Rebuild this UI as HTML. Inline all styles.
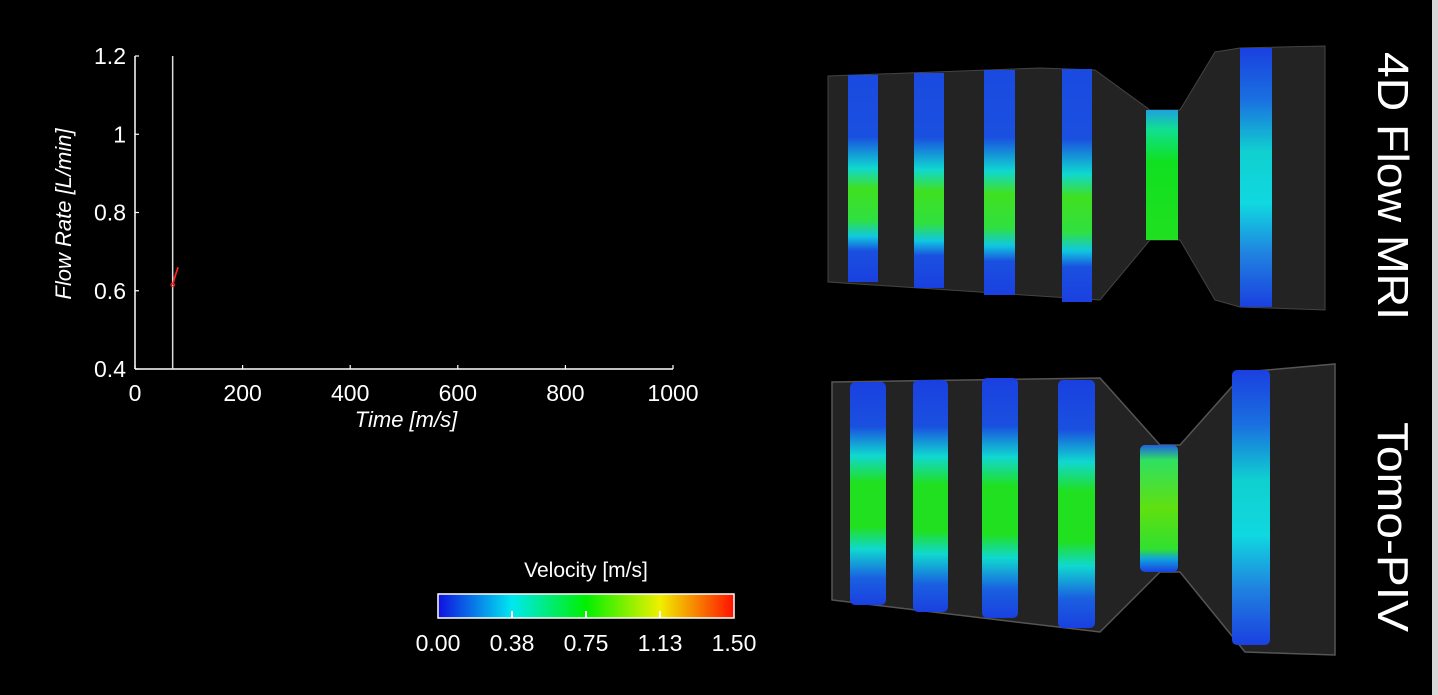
<!DOCTYPE html>
<html><head><meta charset="utf-8"><style>
html,body{margin:0;padding:0;background:#000;}
svg{display:block;}
text{font-family:"Liberation Sans",sans-serif;}
</style></head><body>
<svg id="root" width="1438" height="695" viewBox="0 0 1438 695" xmlns="http://www.w3.org/2000/svg">
<defs>
<linearGradient id="cbar" x1="0" x2="1" y1="0" y2="0">
<stop offset="0" stop-color="#1010e0"/><stop offset="0.25" stop-color="#00e8f0"/><stop offset="0.5" stop-color="#00f000"/><stop offset="0.75" stop-color="#f0f000"/><stop offset="1" stop-color="#ff1000"/>
</linearGradient>
<linearGradient id="gTop" x1="0" x2="0" y1="0" y2="1">
<stop offset="0" stop-color="#1a4ae0"/><stop offset="0.3" stop-color="#1a50e0"/><stop offset="0.45" stop-color="#10d8d0"/><stop offset="0.55" stop-color="#40e020"/><stop offset="0.7" stop-color="#30e040"/><stop offset="0.78" stop-color="#10c8e0"/><stop offset="0.85" stop-color="#1a50e0"/><stop offset="1" stop-color="#1a40e0"/>
</linearGradient>
<linearGradient id="gThroat" x1="0" x2="0" y1="0" y2="1">
<stop offset="0" stop-color="#20a0e0"/><stop offset="0.15" stop-color="#10e090"/><stop offset="0.4" stop-color="#10e020"/><stop offset="1" stop-color="#20e020"/>
</linearGradient>
<linearGradient id="gRight" x1="0" x2="0" y1="0" y2="1">
<stop offset="0" stop-color="#1a40e0"/><stop offset="0.2" stop-color="#1a70e0"/><stop offset="0.4" stop-color="#10d0d0"/><stop offset="0.6" stop-color="#10d8e0"/><stop offset="0.8" stop-color="#2080e0"/><stop offset="1" stop-color="#1a40e0"/>
</linearGradient>
<linearGradient id="gBot" x1="0" x2="0" y1="0" y2="1">
<stop offset="0" stop-color="#1a40e0"/><stop offset="0.2" stop-color="#1a50e0"/><stop offset="0.33" stop-color="#10d8d0"/><stop offset="0.45" stop-color="#20e020"/><stop offset="0.65" stop-color="#20e020"/><stop offset="0.75" stop-color="#10d8d0"/><stop offset="0.88" stop-color="#1a60e0"/><stop offset="1" stop-color="#1a40e0"/>
</linearGradient>
<linearGradient id="gBotThroat" x1="0" x2="0" y1="0" y2="1">
<stop offset="0" stop-color="#2060e0"/><stop offset="0.12" stop-color="#30e060"/><stop offset="0.5" stop-color="#60e010"/><stop offset="0.82" stop-color="#30e030"/><stop offset="0.9" stop-color="#10a0e0"/><stop offset="1" stop-color="#1a40e0"/>
</linearGradient>
</defs>

<g id="chart"></g>

<g>
<text x="586" y="577" fill="#fff" font-size="21" text-anchor="middle">Velocity [m/s]</text>
<rect x="438" y="594" width="296" height="24" fill="url(#cbar)" stroke="#fff" stroke-width="1.5"/>
<g id="cbticks"></g>
</g>

<g>
<path d="M828,76 L1040,68 L1095,70 L1150,110 L1180,110 L1215,52 L1240,48 L1325,46 L1325,310 L1240,307 L1215,300 L1180,240 L1150,240 L1100,300 L828,282 Z" fill="#232323" stroke="#444" stroke-width="1"/>
<rect x="848" y="75" width="30" height="207" fill="url(#gTop)"/>
<rect x="914" y="73" width="30" height="215" fill="url(#gTop)"/>
<rect x="984" y="70" width="31" height="225" fill="url(#gTop)"/>
<rect x="1062" y="69" width="30" height="233" fill="url(#gTop)"/>
<rect x="1146" y="110" width="32" height="130" fill="url(#gThroat)"/>
<rect x="1240" y="48" width="32" height="259" fill="url(#gRight)"/>
<text transform="translate(1378,52) rotate(90)" fill="#fff" font-size="44" textLength="268" lengthAdjust="spacingAndGlyphs">4D Flow MRI</text>
</g>

<g>
<path d="M832,382 L1100,378 L1160,445 L1180,445 L1245,372 L1335,364 L1335,655 L1245,652 L1180,572 L1160,572 L1100,632 L832,600 Z" fill="#232323" stroke="#555" stroke-width="1.5"/>
<rect x="850" y="382" width="36" height="223" rx="5" fill="url(#gBot)"/>
<rect x="913" y="380" width="35" height="232" rx="5" fill="url(#gBot)"/>
<rect x="982" y="378" width="36" height="240" rx="5" fill="url(#gBot)"/>
<rect x="1058" y="380" width="37" height="248" rx="5" fill="url(#gBot)"/>
<rect x="1140" y="445" width="38" height="127" rx="5" fill="url(#gBotThroat)"/>
<rect x="1232" y="370" width="38" height="275" rx="5" fill="url(#gRight)"/>
<text transform="translate(1378,422) rotate(90)" fill="#fff" font-size="44" textLength="210" lengthAdjust="spacingAndGlyphs">Tomo-PIV</text>
</g>
<rect x="1432" y="0" width="6" height="695" fill="#d8d8d8"/>
</svg>
<script>
const xTicks = [0, 200, 400, 600, 800, 1000];
const yTicks = [0.4, 0.6, 0.8, 1.0, 1.2];
const yTickLabels = ["0.4", "0.6", "0.8", "1", "1.2"];
const cursorTime = [70];
const flowTime = [70, 74, 80];
const flowRate = [0.615, 0.635, 0.66];
const cbValues = [0.00, 0.375, 0.75, 1.125, 1.50];
const cbLabels = ["0.00", "0.38", "0.75", "1.13", "1.50"];

const NS = "http://www.w3.org/2000/svg";
const X0 = 135, X1 = 673, Y0 = 369, Y1 = 56;
const sx = v => X0 + (v - 0) / (1000 - 0) * (X1 - X0);
const sy = v => Y0 - (v - 0.4) / (1.2 - 0.4) * (Y0 - Y1);
const cx = v => 438 + v / 1.5 * 296;
function mk(tag, attrs, parent) {
  const e = document.createElementNS(NS, tag);
  for (const k in attrs) e.setAttribute(k, attrs[k]);
  parent.appendChild(e);
  return e;
}
const g = document.getElementById("chart");
let e;
e = mk("line", {x1: X0, y1: Y0, x2: X1, y2: Y0, stroke: "#fff", "stroke-width": 1.5}, g);


e = mk("line", {x1: X0, y1: Y0, x2: X0, y2: Y1, stroke: "#fff", "stroke-width": 1.5}, g);


xTicks.forEach(t => {
  const x = sx(t);
  e = mk("line", {x1: x, y1: Y0, x2: x, y2: Y0 - 4, stroke: "#fff", "stroke-width": 1.2}, g);
  
  
  e = mk("text", {x: x, y: Y0 + 32, fill: "#fff", "font-size": 23, "text-anchor": "middle"}, g);
  e.textContent = String(t);
  
  
});
yTicks.forEach((t, i) => {
  const y = sy(t);
  e = mk("line", {x1: X0, y1: y, x2: X0 + 4, y2: y, stroke: "#fff", "stroke-width": 1.2}, g);
  
  
  e = mk("text", {x: X0 - 9, y: y + 8, fill: "#fff", "font-size": 23, "text-anchor": "end"}, g);
  e.textContent = yTickLabels[i];
  
  
});
e = mk("text", {x: (X0 + X1) / 2 + 2, y: 427, fill: "#fff", "font-size": 22, "font-style": "italic", "text-anchor": "middle"}, g);
e.textContent = "Time [m/s]";


e = mk("text", {transform: "translate(71,214) rotate(-90)", fill: "#fff", "font-size": 22, "font-style": "italic", "text-anchor": "middle"}, g);
e.textContent = "Flow Rate [L/min]";


cursorTime.forEach(t => {
  e = mk("line", {x1: sx(t), y1: Y0, x2: sx(t), y2: Y1, stroke: "#ddd", "stroke-width": 1.5}, g);
  
  
});
const pts = flowTime.map((t, i) => sx(t) + "," + sy(flowRate[i])).join(" ");
e = mk("polyline", {points: pts, fill: "none", stroke: "#ff2020", "stroke-width": 1.8}, g);


e = mk("circle", {cx: sx(flowTime[0]), cy: sy(flowRate[0]), r: 1.8, fill: "none", stroke: "#ff2020", "stroke-width": 1}, g);



const cg = document.getElementById("cbticks");
cbValues.forEach((v, i) => {
  const x = cx(v);
  if (i > 0 && i < cbValues.length - 1) {
    e = mk("line", {x1: x, y1: 618, x2: x, y2: 611, stroke: "#fff", "stroke-width": 2}, cg);
    
    
  }
  e = mk("text", {x: x, y: 651, fill: "#fff", "font-size": 23, "text-anchor": "middle"}, cg);
  e.textContent = cbLabels[i];
  
  
});
</script>
</body></html>
